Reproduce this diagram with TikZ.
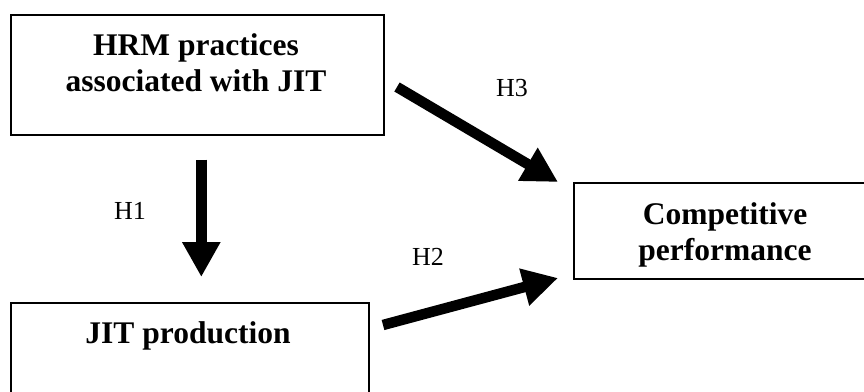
\documentclass[tikz,border=0pt]{standalone}
\usepackage{fontspec}
\setmainfont{Liberation Serif}
\usetikzlibrary{arrows.meta}
\tikzset{
  boxnode/.style={draw=black, line width=1.6pt, inner sep=0pt, anchor=north west},
  titletext/.style={font=\fontsize{31.5}{36}\selectfont\bfseries, align=center, inner sep=0pt},
  hyplabel/.style={font=\fontsize{26}{30}\selectfont, inner sep=0pt},
  bigarrow/.style={line width=10.5pt, -{Triangle[length=35pt,width=36pt]}},
}
\begin{document}
\begin{tikzpicture}[x=1pt,y=-1pt]
\useasboundingbox (0,0) rectangle (864,391);
\clip (0,0) rectangle (864,391);
\fill[white] (0,0) rectangle (864,391);
% boxes
\node[boxnode, minimum width=373pt, minimum height=120pt] (hrm) at (10,14) {};
\node[boxnode, minimum width=358pt, minimum height=130pt] (jit) at (10,302) {};
\node[boxnode, minimum width=330pt, minimum height=96pt] (comp) at (573,182) {};
% texts
\node[titletext, anchor=base] (hrmtxt) at (196,91) {HRM practices\\associated with JIT};
\node[titletext, anchor=base] (jittxt) at (188,343) {JIT production};
\node[titletext, anchor=base] (comptxt) at (725,260) {Competitive\\performance};
% labels
\node[hyplabel] (h1) at (130,211) {H1};
\node[hyplabel] (h3) at (512,88) {H3};
\node[hyplabel] (h2) at (428,257) {H2};
% arrows
\draw[bigarrow, shorten <=24pt, shorten >=25pt] ([xshift=4pt]hrm.south) -- ([xshift=4pt]hrm.south |- jit.north);
\coordinate (h3s) at (397,87);
\coordinate (h3e) at (558,182);
\draw[bigarrow] (h3s) -- (h3e);
\coordinate (h2s) at (383,325);
\coordinate (h2e) at (558,278);
\draw[bigarrow] (h2s) -- (h2e);
\end{tikzpicture}
\end{document}
